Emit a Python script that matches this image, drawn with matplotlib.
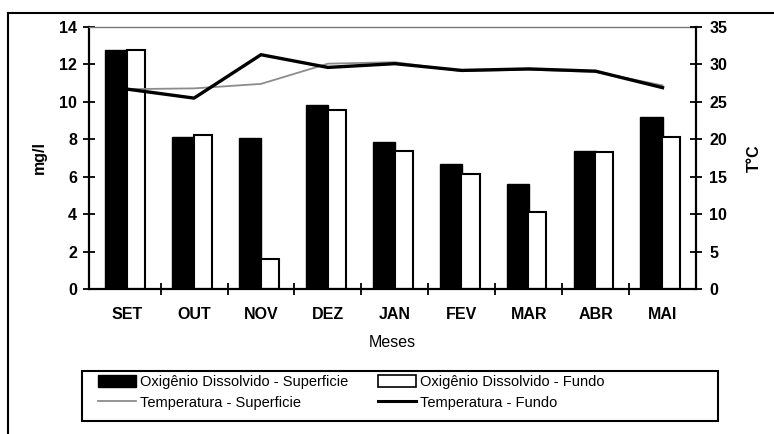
import matplotlib
matplotlib.use("Agg")
import matplotlib.pyplot as plt
from matplotlib.patches import Patch, Rectangle
from matplotlib.lines import Line2D
import numpy as np

plt.rcParams['font.family'] = ['Liberation Sans', 'DejaVu Sans']

months = ["SET", "OUT", "NOV", "DEZ", "JAN", "FEV", "MAR", "ABR", "MAI"]
od_superficie = [12.75, 8.1, 8.05, 9.85, 7.85, 6.7, 5.6, 7.35, 9.2]
od_fundo = [12.75, 8.25, 1.6, 9.55, 7.4, 6.15, 4.1, 7.3, 8.1]
temp_superficie = [26.7, 26.8, 27.4, 30.1, 30.3, 29.1, 29.3, 29.0, 27.2]
temp_fundo = [26.7, 25.5, 31.3, 29.6, 30.1, 29.2, 29.4, 29.1, 26.9]
left_ticks = [0, 2, 4, 6, 8, 10, 12, 14]
right_ticks = [0, 5, 10, 15, 20, 25, 30, 35]

W, H = 774, 434
fig = plt.figure(figsize=(W / 100, H / 100), dpi=100)
ax = fig.add_axes([89 / W, 1 - 289 / H, (696 - 89) / W, (289 - 27) / H])
x = np.arange(len(months))

ax.bar(x - 0.165, od_superficie, width=0.33, color='black', edgecolor='black',
       linewidth=1.0, zorder=2)
ax.bar(x + 0.13, od_fundo, width=0.27, color='white', edgecolor='black',
       linewidth=1.5, zorder=2)
ax.set_xlim(-0.57, len(months) - 0.5)
ax.set_ylim(0, 14)
ax.set_yticks(left_ticks)
ax.set_yticklabels([str(t) for t in left_ticks], fontsize=11.5, fontweight='bold')
ax.set_xticks(np.arange(len(months) - 1) + 0.5)
ax.set_xticklabels([])
ax.set_xticks(x, minor=True)
ax.set_xticklabels(months, minor=True, fontsize=11.5, fontweight='bold')
ax.tick_params(axis='x', which='minor', length=0, pad=13)
ax.tick_params(axis='x', which='major', direction='inout', length=9, width=1.3)
ax.tick_params(axis='y', direction='inout', length=9, width=1.3, pad=4)
ax.set_ylabel("mg/l", fontsize=11.5, fontweight='bold', labelpad=9)
ax.set_xlabel("Meses", fontsize=11.5, labelpad=9)
for s in ['left', 'bottom']:
    ax.spines[s].set_linewidth(1.6)
ax.spines['top'].set_color('#777777')
ax.spines['top'].set_linewidth(1.0)
ax.spines['right'].set_visible(False)

ax2 = ax.twinx()
ax2.plot(x, temp_superficie, color='#8c8c8c', linewidth=1.3, zorder=3)
ax2.plot(x, temp_fundo, color='black', linewidth=2.4, zorder=4)
ax2.set_ylim(0, 35)
ax2.set_yticks(right_ticks)
ax2.set_yticklabels([str(t) for t in right_ticks], fontsize=11.5, fontweight='bold')
ax2.tick_params(axis='y', direction='inout', length=9, width=1.3, pad=5)
ax2.set_ylabel("T°C", fontsize=11.5, fontweight='bold', labelpad=14)
ax2.spines['right'].set_linewidth(1.6)
for s in ['top', 'left', 'bottom']:
    ax2.spines[s].set_visible(False)

handles = [
    Patch(facecolor='black', edgecolor='black', label='Oxigênio Dissolvido - Superficie'),
    Line2D([], [], color='#8c8c8c', linewidth=1.3, label='Temperatura - Superficie'),
    Patch(facecolor='white', edgecolor='black', linewidth=1.2, label='Oxigênio Dissolvido - Fundo'),
    Line2D([], [], color='black', linewidth=2.2, label='Temperatura - Fundo'),
]
leg = fig.legend(handles=handles, ncol=2, loc='upper left',
                 bbox_to_anchor=(98 / W, 1 - 375 / H),
                 fontsize=10.5, frameon=False,
                 handlelength=2.6, handleheight=0.9, handletextpad=0.3, borderaxespad=0,
                 labelspacing=0.45, borderpad=0.0, columnspacing=2.0)

# legend box
fig.add_artist(Rectangle((82 / W, 1 - 421 / H), (718 - 82) / W, (421 - 371) / H,
                         transform=fig.transFigure, fill=False, edgecolor='black',
                         linewidth=1.5))

# outer chart frame
fig.add_artist(Line2D([8 / W, 8 / W], [0, 1 - 13 / H], transform=fig.transFigure,
                      color='black', linewidth=1.5))
fig.add_artist(Line2D([8 / W, 1], [1 - 13 / H, 1 - 13 / H], transform=fig.transFigure,
                      color='black', linewidth=1.5))

fig.savefig("out.png", dpi=100)
